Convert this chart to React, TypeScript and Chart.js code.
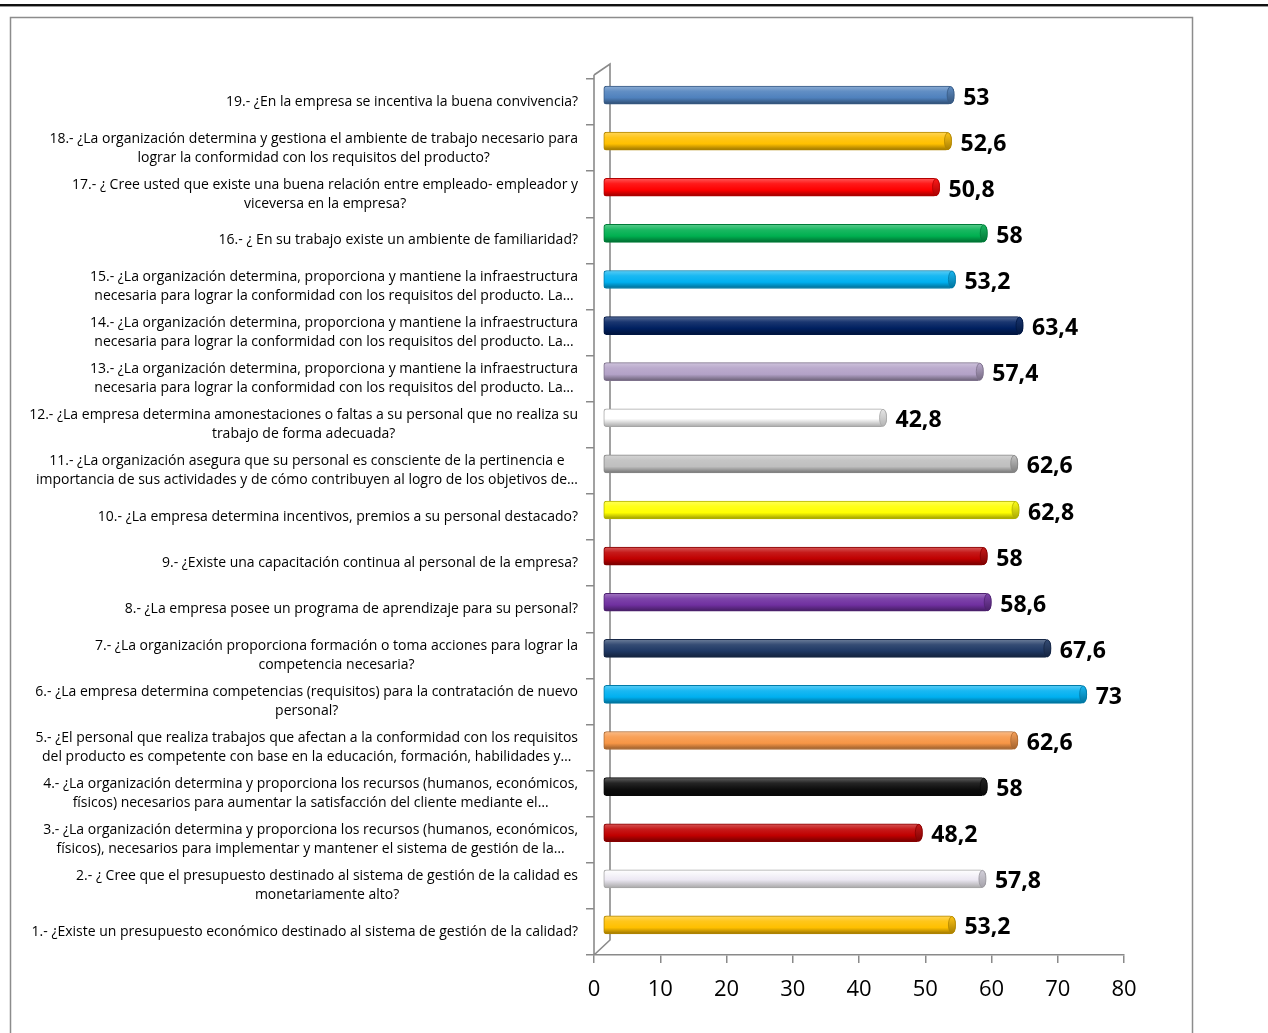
import { useEffect, useRef } from 'react';
import { Chart, registerables } from 'chart.js';

Chart.register(...registerables);

// Categories listed from question 1 (bottom) to question 19 (top)
const CATEGORIES: string[][] = [
  ['1.- ¿Existe un presupuesto económico destinado al sistema de gestión de la calidad?'],
  ['2.- ¿ Cree que el presupuesto destinado al sistema de gestión de la calidad es', 'monetariamente alto?'],
  ['3.- ¿La organización determina y proporciona los recursos (humanos, económicos,', 'físicos), necesarios para implementar y mantener el sistema de gestión de la…'],
  ['4.- ¿La organización determina y proporciona los recursos (humanos, económicos,', 'físicos) necesarios para aumentar la satisfacción del cliente mediante el…'],
  ['5.- ¿El personal que realiza trabajos que afectan a la conformidad con los requisitos', 'del producto es competente con base en la educación, formación, habilidades y…'],
  ['6.- ¿La empresa determina competencias (requisitos) para la contratación de nuevo', 'personal?'],
  ['7.- ¿La organización proporciona formación o toma acciones para lograr la', 'competencia necesaria?'],
  ['8.- ¿La empresa posee un programa de aprendizaje para su personal?'],
  ['9.- ¿Existe una capacitación continua al personal de la empresa?'],
  ['10.- ¿La empresa determina incentivos, premios a su personal destacado?'],
  ['11.- ¿La organización asegura que su personal es consciente de la pertinencia e', 'importancia de sus actividades y de cómo contribuyen al logro de los objetivos de…'],
  ['12.- ¿La empresa determina amonestaciones o faltas a su personal que no realiza su', 'trabajo de forma adecuada?'],
  ['13.- ¿La organización determina, proporciona y mantiene la infraestructura', 'necesaria para lograr la conformidad con los requisitos del producto. La…'],
  ['14.- ¿La organización determina, proporciona y mantiene la infraestructura', 'necesaria para lograr la conformidad con los requisitos del producto. La…'],
  ['15.- ¿La organización determina, proporciona y mantiene la infraestructura', 'necesaria para lograr la conformidad con los requisitos del producto. La…'],
  ['16.- ¿ En su trabajo existe un ambiente de familiaridad?'],
  ['17.- ¿ Cree usted que existe una buena relación entre empleado- empleador y', 'viceversa en la empresa?'],
  ['18.- ¿La organización determina y gestiona el ambiente de trabajo necesario para', 'lograr la conformidad con los requisitos del producto?'],
  ['19.- ¿En la empresa se incentiva la buena convivencia?'],
];

const VALUES: number[] = [
  53.2, 57.8, 48.2, 58, 62.6, 73, 67.6, 58.6, 58, 62.8,
  62.6, 42.8, 57.4, 63.4, 53.2, 58, 50.8, 52.6, 53,
];

const BAR_COLORS: string[] = [
  '#FFC000', '#ECE8F3', '#C00000', '#0D0D0D', '#F79646', '#00B0F0', '#1F3864',
  '#7030A0', '#C00000', '#FFFF00', '#BFBFBF', '#FFFFFF', '#B3A2C7', '#002060',
  '#00B0F0', '#00B050', '#FF0000', '#FFC000', '#4F81BD',
];

const X_MIN = 0;
const X_MAX = 80;
const X_STEP = 10;

const DEPTH_X = 16;
const DEPTH_Y = 15;
const BAR_SHIFT_X = 9;
const BAR_SHIFT_Y = -7;
const AXIS_GRAY = '#8a8a8a';
const LABEL_FONT = '14px "Open Sans"';
const VALUE_FONT = 'bold 23px "Open Sans"';

function shade(hex: string, f: number): string {
  const n = parseInt(hex.slice(1), 16);
  let r = (n >> 16) & 255, g = (n >> 8) & 255, b = n & 255;
  if (f >= 0) {
    r = r + (255 - r) * f; g = g + (255 - g) * f; b = b + (255 - b) * f;
  } else {
    r = r * (1 + f); g = g * (1 + f); b = b * (1 + f);
  }
  return `rgb(${Math.round(r)},${Math.round(g)},${Math.round(b)})`;
}

function isWhiteish(hex: string) {
  const n = parseInt(hex.slice(1), 16);
  return ((n >> 16) & 255) > 220 && ((n >> 8) & 255) > 220 && (n & 255) > 220;
}

const BAR_H = 18;

const framePlugin = {
  id: 'frame',
  beforeDraw(chart: any) {
    const ctx = chart.ctx;
    ctx.save();
    ctx.fillStyle = '#ffffff';
    ctx.fillRect(0, 0, chart.width, chart.height);
    ctx.fillStyle = '#111111';
    ctx.fillRect(0, 4, chart.width, 2);
    ctx.fillStyle = '#9a9a9a';
    ctx.fillRect(0, 6, chart.width, 1);
    ctx.strokeStyle = '#8c8c8c';
    ctx.lineWidth = 1.5;
    ctx.strokeRect(10.5, 17.5, 1182, 1100);
    ctx.restore();
  },
};

const wallPlugin = {
  id: 'wall',
  beforeDatasetsDraw(chart: any) {
    const { ctx, chartArea } = chart;
    const { left, top, bottom } = chartArea;
    ctx.save();
    ctx.strokeStyle = AXIS_GRAY;
    ctx.lineWidth = 1.6;
    ctx.beginPath();
    ctx.moveTo(left, top - 4);
    ctx.lineTo(left, bottom);
    ctx.moveTo(left, top - 4);
    ctx.lineTo(left + DEPTH_X, top - DEPTH_Y);
    ctx.lineTo(left + DEPTH_X, bottom - DEPTH_Y);
    ctx.lineTo(left, bottom);
    ctx.stroke();
    ctx.restore();
    // shift bars to mid-depth (3D look)
    ctx.save();
    ctx.translate(BAR_SHIFT_X, BAR_SHIFT_Y);
  },
  afterDatasetsDraw(chart: any) {
    const ctx = chart.ctx;
    const meta = chart.getDatasetMeta(0);
    meta.data.forEach((bar: any, i: number) => {
      const col = BAR_COLORS[i];
      const h = BAR_H;
      const cx = bar.x - 3.5;
      const g = ctx.createLinearGradient(0, bar.y - h / 2, 0, bar.y + h / 2);
      const white = isWhiteish(col);
      g.addColorStop(0, shade(col, white ? -0.1 : 0.1));
      g.addColorStop(1, shade(col, white ? -0.3 : -0.35));
      ctx.beginPath();
      ctx.ellipse(cx, bar.y, 3.5, h / 2 - 0.5, 0, 0, Math.PI * 2);
      ctx.fillStyle = g;
      ctx.fill();
      ctx.strokeStyle = shade(col, white ? -0.35 : -0.3);
      ctx.lineWidth = 0.8;
      ctx.stroke();
      ctx.fillStyle = '#000000';
      ctx.font = VALUE_FONT;
      ctx.textAlign = 'left';
      ctx.textBaseline = 'middle';
      ctx.fillText(String(VALUES[i]).replace('.', ','), bar.x + 9, bar.y + 3);
    });
    ctx.restore();
  },
};

const labelPlugin = {
  id: 'catLabels',
  afterDraw(chart: any) {
    const { ctx, chartArea } = chart;
    const yScale = chart.scales.y;
    const right = chartArea.left - 16;
    const lh = 19;
    ctx.save();
    ctx.font = LABEL_FONT;
    ctx.fillStyle = '#000000';
    ctx.textAlign = 'center';
    ctx.textBaseline = 'middle';
    CATEGORIES.forEach((lines, i) => {
      const y = yScale.getPixelForTick(i);
      const maxW = Math.max(...lines.map((l) => ctx.measureText(l).width));
      const cx = right - maxW / 2;
      const y0 = y - ((lines.length - 1) * lh) / 2;
      lines.forEach((l, j) => ctx.fillText(l, cx, y0 + j * lh));
    });
    ctx.restore();
  },
};

export default function App() {
  const ref = useRef<HTMLCanvasElement>(null);
  useEffect(() => {
    if (!ref.current) return;
    const chart = new Chart(ref.current, {
      type: 'bar',
      data: {
        labels: CATEGORIES.map((c) => c.join(' ')),
        datasets: [
          {
            data: VALUES,
            barThickness: BAR_H,
            backgroundColor: (context: any) => {
              const i = context.dataIndex;
              const col = BAR_COLORS[i] || '#888888';
              const chartObj = context.chart;
              if (!chartObj.chartArea || !chartObj.scales.y || i === undefined) return col;
              const y = chartObj.scales.y.getPixelForValue(i);
              const g = chartObj.ctx.createLinearGradient(0, y - BAR_H / 2, 0, y + BAR_H / 2);
              if (isWhiteish(col)) {
                g.addColorStop(0, '#ffffff');
                g.addColorStop(0.55, col);
                g.addColorStop(1, '#a8a8a8');
              } else {
                g.addColorStop(0, shade(col, 0.35));
                g.addColorStop(0.3, shade(col, 0.1));
                g.addColorStop(0.65, col);
                g.addColorStop(1, shade(col, -0.4));
              }
              return g;
            },
            borderColor: BAR_COLORS.map((c) => (isWhiteish(c) ? '#a6a6a6' : shade(c, -0.3))),
            borderWidth: 1,
            borderSkipped: false,
            borderRadius: { topLeft: 3, bottomLeft: 3, topRight: 6, bottomRight: 6 },
          },
        ],
      },
      options: {
        indexAxis: 'y',
        animation: false,
        responsive: true,
        maintainAspectRatio: false,
        layout: { padding: { top: 79, right: 144, left: 0, bottom: 0 } },
        plugins: {
          legend: { display: false },
          tooltip: { enabled: false },
        },
        scales: {
          x: {
            type: 'linear',
            min: X_MIN,
            max: X_MAX,
            ticks: {
              stepSize: X_STEP,
              color: '#000000',
              font: { family: '"Open Sans"', size: 22 },
              padding: 14,
            },
            grid: {
              drawOnChartArea: false,
              drawTicks: true,
              tickLength: 8,
              color: AXIS_GRAY,
              lineWidth: 1.5,
            },
            border: { display: true, color: AXIS_GRAY, width: 1.6 },
            afterFit: (scale: any) => {
              scale.height = 78;
            },
          },
          y: {
            type: 'category',
            reverse: true,
            ticks: { display: false },
            grid: {
              drawOnChartArea: false,
              drawTicks: true,
              tickLength: 8,
              color: AXIS_GRAY,
              lineWidth: 1.5,
              offset: true,
            },
            border: { display: false },
            afterFit: (scale: any) => {
              scale.width = 594;
            },
          },
        },
      },
      plugins: [framePlugin, wallPlugin, labelPlugin],
    } as any);
    return () => chart.destroy();
  }, []);
  return (
    <div style={{ position: 'fixed', left: 0, top: 0, width: 1268, height: 1033 }}>
      <canvas ref={ref} />
    </div>
  );
}
